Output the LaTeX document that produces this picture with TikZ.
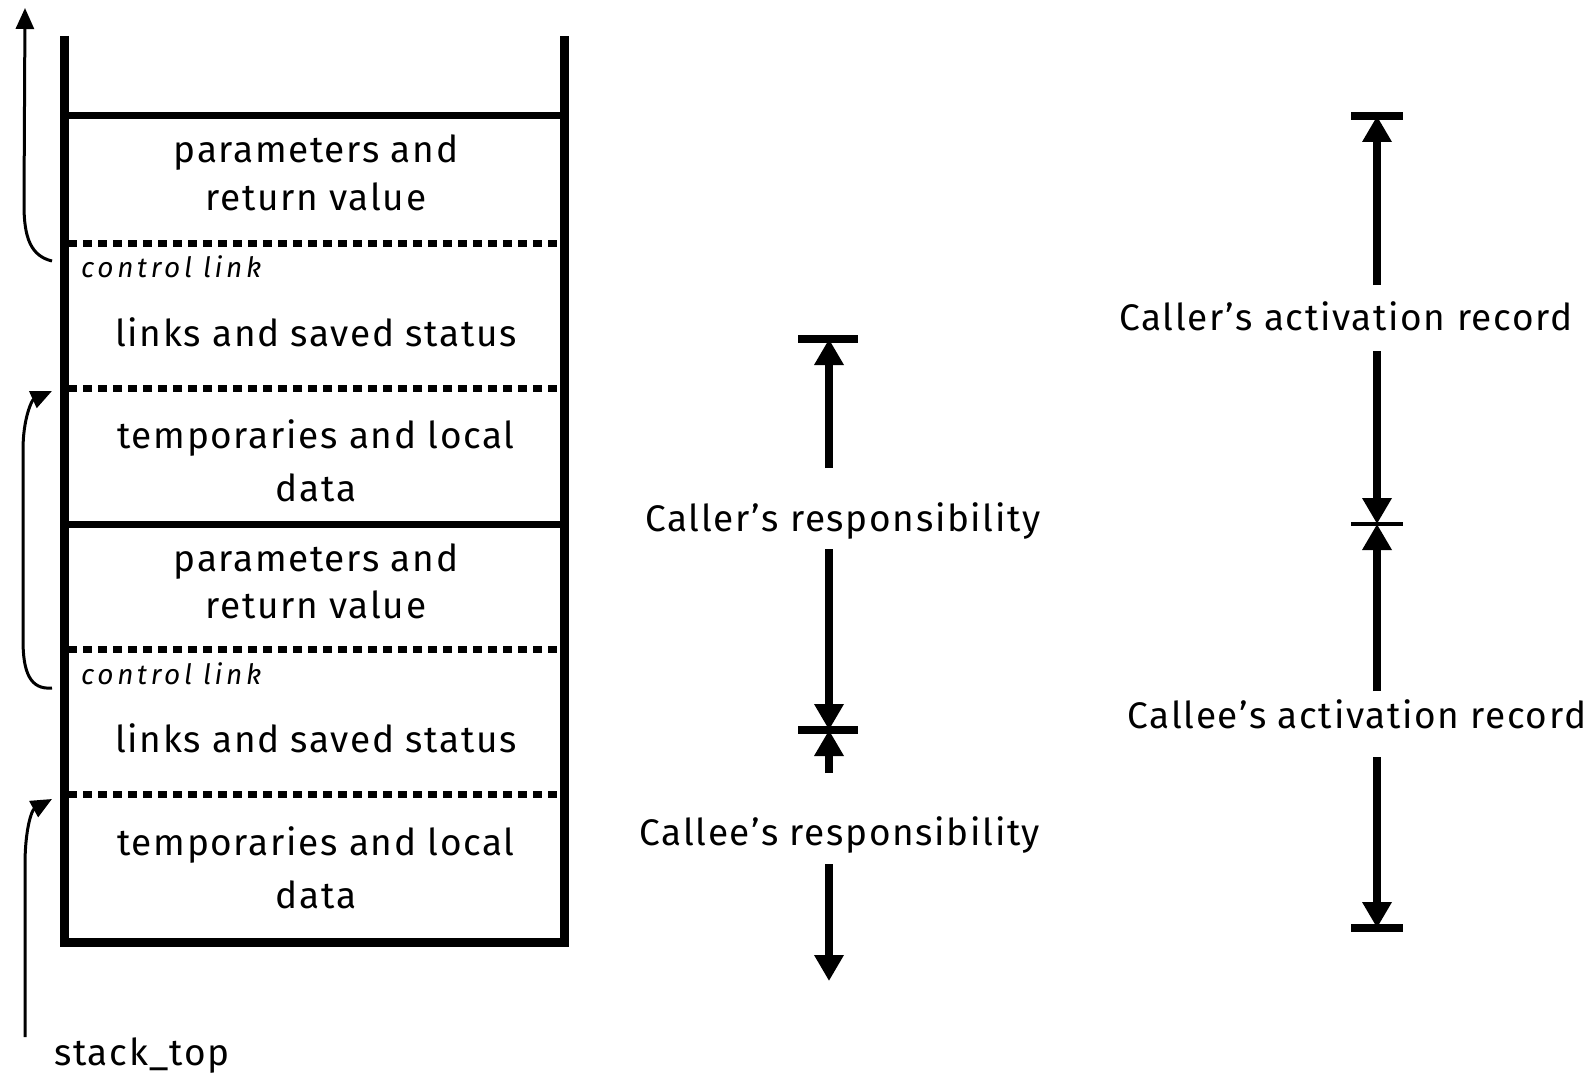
\documentclass[tikz,border=0pt]{standalone}
\usepackage{fontspec}
\setmainfont{Fira Sans}[LetterSpace=4.5]
\usetikzlibrary{arrows.meta}
\begin{document}
\begin{tikzpicture}[x=1pt,y=-1pt,
  wall/.style={line width=9pt, line join=miter},
  solidsep/.style={line width=7pt},
  dotsep/.style={line width=7pt, dash pattern=on 9pt off 6pt},
  txt/.style={anchor=base, inner sep=0pt, font=\fontsize{37}{44}\selectfont},
  ctl/.style={anchor=base west, inner sep=0pt, font=\fontsize{28}{32}\selectfont\itshape\addfontfeatures{LetterSpace=13}},
  link/.style={line width=3pt, -{Triangle[length=21pt,width=18pt]}},
  dim/.style={line width=8pt, -{Triangle[length=26pt,width=28pt]}},
  bar/.style={line width=8pt},
  thinbar/.style={line width=4pt},
]
\useasboundingbox (0,0) rectangle (1594,1078);

% stack frame walls
\draw[wall] (64,36) -- (64,942) -- (564,942) -- (564,36);

% record boundaries
\draw[solidsep] (64,116) -- (564,116);
\draw[dotsep]   (68,243) -- (560,243);
\draw[dotsep]   (68,388) -- (560,388);
\draw[solidsep] (64,524) -- (564,524);
\draw[dotsep]   (68,649) -- (560,649);
\draw[dotsep]   (68,794) -- (560,794);

% caller's record
\node[txt] (p1a) at (316,163) {parameters and};
\node[txt] (p1b) at (316,210) {return value};
\node[ctl] (c1)  at (81,277)  {control link};
\node[txt] (l1)  at (316,346) {links and saved status};
\node[txt] (t1a) at (316,448) {temporaries and local};
\node[txt] (t1b) at (316,501) {data};

% callee's record
\node[txt] (p2a) at (316,571) {parameters and};
\node[txt] (p2b) at (316,618) {return value};
\node[ctl] (c2)  at (81,684)  {control link};
\node[txt] (l2)  at (316,752) {links and saved status};
\node[txt] (t2a) at (316,855) {temporaries and local};
\node[txt] (t2b) at (316,908) {data};

\node[txt, anchor=base west] (st) at (54,1065) {stack\_top};

% control links and stack top pointer
\coordinate (cl1) at (52,261);
\coordinate (up1) at (25,8);
\draw[link] (cl1) .. controls (31,256) and (24,238) .. (24,205) -- (up1);

\coordinate (cl2) at (52,688);
\coordinate (fr1) at (52,391);
\draw[link] (cl2) .. controls (30,690) and (23,672) .. (23,640) -- (23,450)
  .. controls (23,418) and (32,400) .. (fr1);

\coordinate (stb) at (25,1037);
\coordinate (fr2) at (52,799);
\draw[link] (stb) -- (25,865) .. controls (25,828) and (32,810) .. (fr2);

% responsibility split
\coordinate (rb1) at (829,339);
\coordinate (rb2) at (829,730);
\draw[bar] (798,339) -- (858,339);
\draw[bar] (798,730) -- (858,730);
\node[txt] (cr) at (843,531) {Caller’s responsibility};
\node[txt] (ce) at (840,845) {Callee’s responsibility};
\draw[dim] (829,468) -- (rb1);
\draw[dim] (829,549) -- (rb2);
\draw[dim] (829,773) -- (rb2);
\draw[dim] (829,864) -- (829,981);

% activation record extents
\coordinate (ab1) at (1377,116);
\coordinate (ab2) at (1377,524);
\coordinate (ab3) at (1377,928);
\draw[bar] (1351,116) -- (1403,116);
\draw[thinbar] (1351,524) -- (1403,524);
\draw[bar] (1351,928) -- (1403,928);
\node[txt] (ar) at (1346,330) {Caller’s activation record};
\node[txt] (ae) at (1357,728) {Callee’s activation record};
\draw[dim] (1377,285) -- (ab1);
\draw[dim] (1377,351) -- (ab2);
\draw[dim] (1377,691) -- (ab2);
\draw[dim] (1377,757) -- (ab3);
\end{tikzpicture}
\end{document}
